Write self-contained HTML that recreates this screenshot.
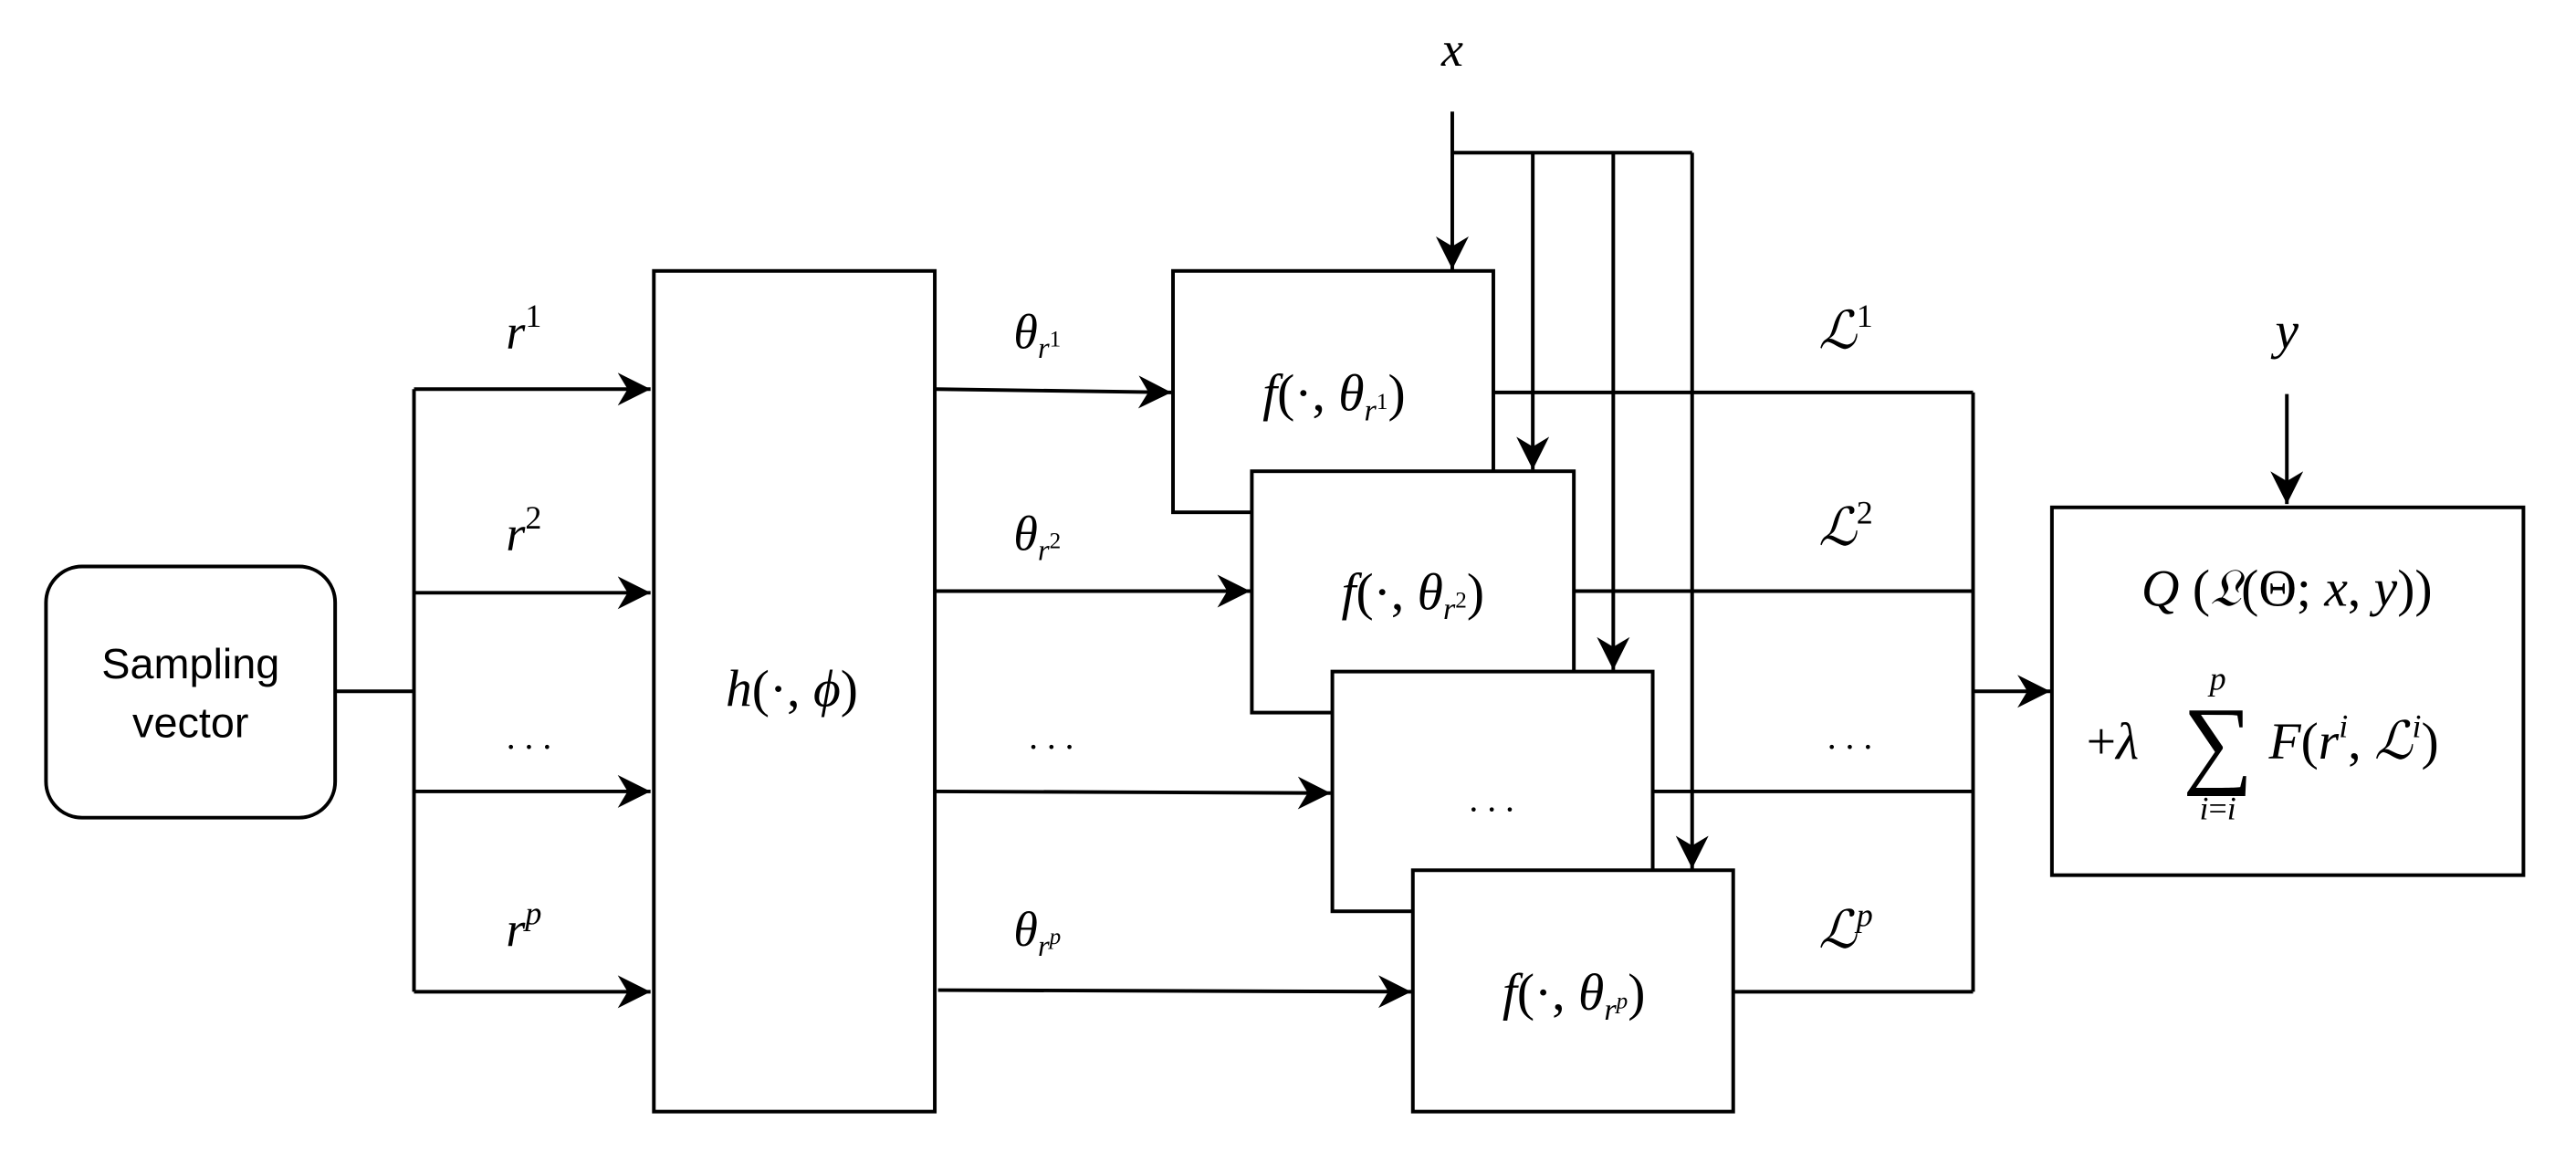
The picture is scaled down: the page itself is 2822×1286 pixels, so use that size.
<!DOCTYPE html>
<html><head><meta charset="utf-8"><style>
html,body{margin:0;padding:0;background:#fff;}
svg{display:block;}
.m{font-family:"Liberation Serif","DejaVu Serif",serif;font-style:italic;fill:#000;}
.n{font-family:"Liberation Serif","DejaVu Serif",serif;font-style:normal;fill:#000;}
</style></head><body>
<svg width="2822" height="1286" viewBox="0 0 1568 715" preserveAspectRatio="none" xmlns="http://www.w3.org/2000/svg">
<defs>
<marker id="a" markerUnits="userSpaceOnUse" markerWidth="24" markerHeight="24" refX="20" refY="10" orient="auto">
<path d="M0,0 L20,10 L0,20 L6,10 Z" fill="#000"/>
</marker>
</defs>
<g fill="none" stroke="#000" stroke-width="2.2">
<rect x="28" y="345" width="176" height="153" rx="22" fill="#fff"/>
<path d="M204,421 H252 M252,237 V604"/>
<path d="M252,237 H396" marker-end="url(#a)"/>
<path d="M252,361 H396" marker-end="url(#a)"/>
<path d="M252,482 H396" marker-end="url(#a)"/>
<path d="M252,604 H396" marker-end="url(#a)"/>
<rect x="398" y="165" width="171" height="512" fill="#fff"/>
<path d="M570,237 L713,239" marker-end="url(#a)"/>
<path d="M570,360 H761" marker-end="url(#a)"/>
<path d="M570,482 L810,483" marker-end="url(#a)"/>
<path d="M571,603 L859,604" marker-end="url(#a)"/>
<path d="M909,239 H1201 M958,360 H1201 M1006,482 H1201 M1055,604 H1201 M1201,239 V604"/>
<path d="M1201,421 H1248" marker-end="url(#a)"/>
<path d="M1392,240 V307" marker-end="url(#a)"/>
<path d="M884,68 V164" marker-end="url(#a)"/>
<path d="M884,93 H1030"/>
<path d="M933,93 V286" marker-end="url(#a)"/>
<path d="M982,93 V408" marker-end="url(#a)"/>
<path d="M1030,93 V529" marker-end="url(#a)"/>
<rect x="714" y="165" width="195" height="147" fill="#fff"/>
<rect x="762" y="287" width="196" height="147" fill="#fff"/>
<rect x="811" y="409" width="195" height="146" fill="#fff"/>
<rect x="860" y="530" width="195" height="147" fill="#fff"/>
<rect x="1249" y="309" width="287" height="224" fill="#fff"/>
</g>
<g>
<text x="116" y="413" text-anchor="middle" font-family="Liberation Sans,sans-serif" font-size="26">Sampling</text>
<text x="116" y="449" text-anchor="middle" font-family="Liberation Sans,sans-serif" font-size="26">vector</text>

<text x="308" y="212" class="m" font-size="30">r<tspan class="n" font-size="20" dy="-13">1</tspan></text>
<text x="308" y="335" class="m" font-size="30">r<tspan class="n" font-size="20" dy="-13">2</tspan></text>
<text x="322" y="456" class="n" font-size="22" text-anchor="middle">. . .</text>
<text x="308" y="576" class="m" font-size="30">r<tspan font-size="20" dy="-13">p</tspan></text>

<text x="482" y="430" class="m" font-size="32" text-anchor="middle">h<tspan class="n">(·, </tspan>ϕ<tspan class="n">)</tspan></text>

<text x="617" y="212" class="m" font-size="30">θ<tspan font-size="18" dy="6">r</tspan><tspan class="n" font-size="14" dy="-7">1</tspan></text>
<text x="617" y="335" class="m" font-size="30">θ<tspan font-size="18" dy="6">r</tspan><tspan class="n" font-size="14" dy="-7">2</tspan></text>
<text x="640" y="456" class="n" font-size="22" text-anchor="middle">. . .</text>
<text x="617" y="576" class="m" font-size="30">θ<tspan font-size="18" dy="6">r</tspan><tspan font-size="14" dy="-7">p</tspan></text>

<text x="812" y="250" class="m" font-size="32" text-anchor="middle">f<tspan class="n">(·, </tspan>θ<tspan font-size="19" dy="6">r</tspan><tspan class="n" font-size="14" dy="-7">1</tspan><tspan class="n" dy="1">)</tspan></text>
<text x="860" y="371" class="m" font-size="32" text-anchor="middle">f<tspan class="n">(·, </tspan>θ<tspan font-size="19" dy="6">r</tspan><tspan class="n" font-size="14" dy="-7">2</tspan><tspan class="n" dy="1">)</tspan></text>
<text x="908" y="494" class="n" font-size="22" text-anchor="middle">. . .</text>
<text x="958" y="615" class="m" font-size="32" text-anchor="middle">f<tspan class="n">(·, </tspan>θ<tspan font-size="19" dy="6">r</tspan><tspan font-size="14" dy="-7">p</tspan><tspan class="n" dy="1">)</tspan></text>

<text x="884" y="40" class="m" font-size="30" text-anchor="middle">x</text>
<text x="1392" y="212" class="m" font-size="32" text-anchor="middle">y</text>

<text x="1107" y="212" class="m" font-size="32">ℒ<tspan class="n" font-size="20" dy="-13">1</tspan></text>
<text x="1107" y="332" class="m" font-size="32">ℒ<tspan class="n" font-size="20" dy="-13">2</tspan></text>
<text x="1126" y="456" class="n" font-size="22" text-anchor="middle">. . .</text>
<text x="1107" y="577" class="m" font-size="32">ℒ<tspan font-size="20" dy="-13">p</tspan></text>

<text x="1392" y="369" class="m" font-size="32" text-anchor="middle">Q <tspan class="n">(</tspan>𝔏<tspan class="n">(Θ; </tspan>x<tspan class="n">, </tspan>y<tspan class="n">))</tspan></text>
<text x="1270" y="462" class="n" font-size="32">+<tspan class="m">λ</tspan></text>
<text x="1350" y="472" class="n" font-size="60" text-anchor="middle">∑</text>
<text x="1350" y="420" class="m" font-size="20" text-anchor="middle">p</text>
<text x="1350" y="499" class="m" font-size="20" text-anchor="middle">i<tspan class="n">=</tspan>i</text>
<text x="1381" y="462" class="m" font-size="32">F<tspan class="n">(</tspan>r<tspan font-size="20" dy="-13">i</tspan><tspan class="n" dy="13">, </tspan>ℒ<tspan font-size="20" dy="-13">i</tspan><tspan class="n" dy="13">)</tspan></text>
</g>
</svg>
</body></html>
